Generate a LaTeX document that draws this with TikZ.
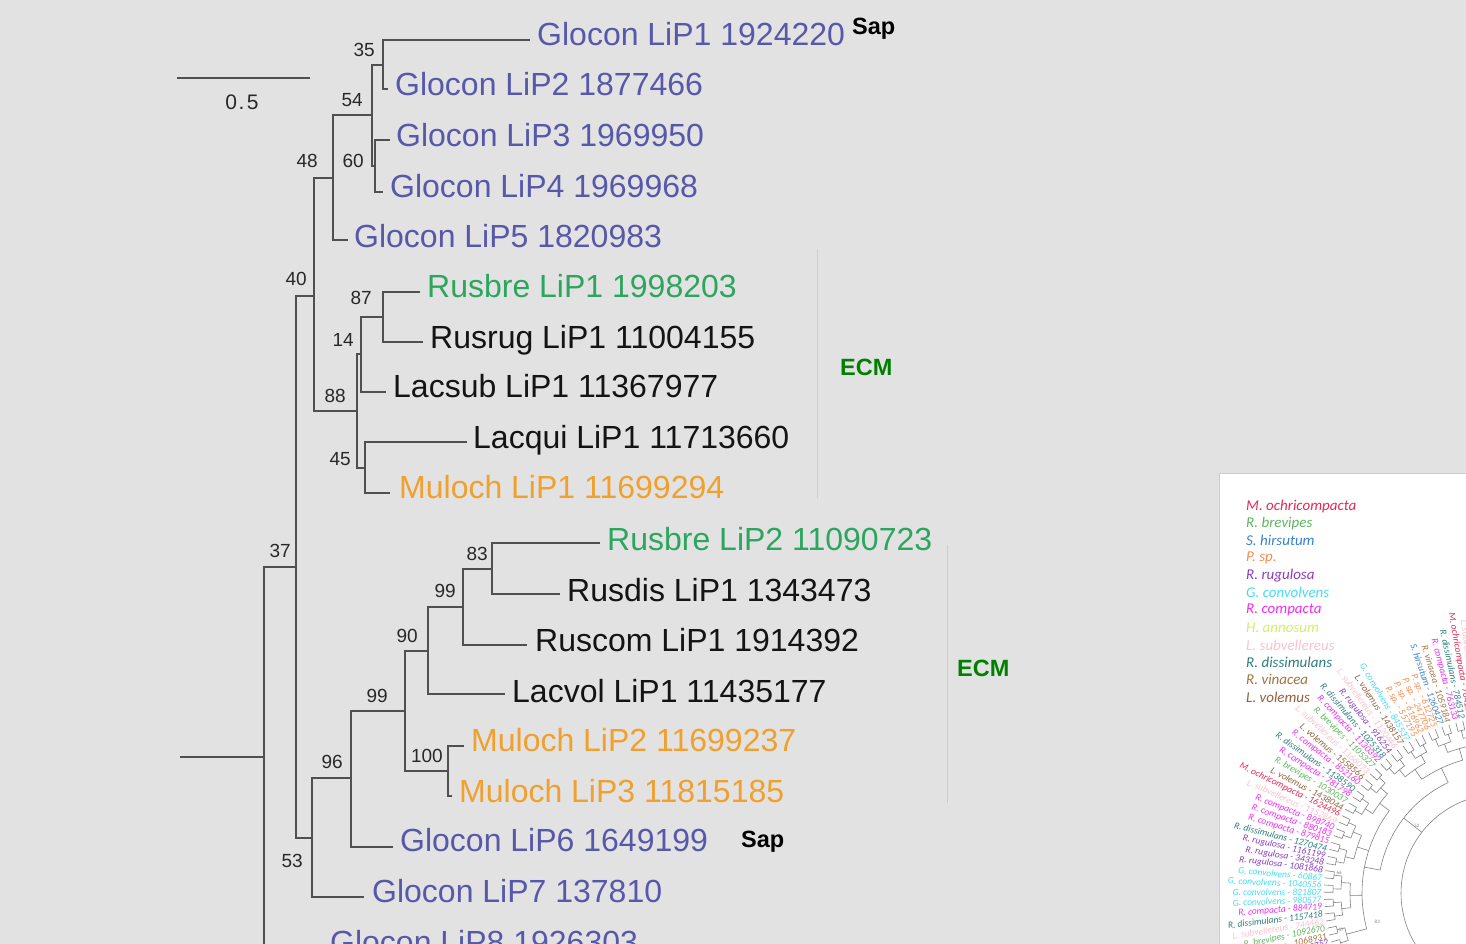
\documentclass[tikz,border=0pt]{standalone}
\usepackage{fontspec}
\setmainfont{Liberation Sans}
\newfontfamily\insetfont{Carlito}
\usetikzlibrary{calc}

\definecolor{bgc}{RGB}{226,226,226}
\definecolor{treegray}{RGB}{80,80,80}
\definecolor{bootgray}{RGB}{40,40,40}
\definecolor{glocon}{RGB}{88,88,170}
\definecolor{rusgreen}{RGB}{45,165,95}
\definecolor{mulorange}{RGB}{240,160,45}
\definecolor{darktext}{RGB}{20,20,20}
\definecolor{ecmgreen}{RGB}{0,128,0}
\definecolor{sepgray}{RGB}{205,205,205}
% species colours of the circular tree
\definecolor{mo}{RGB}{230,40,85}
\definecolor{rb}{RGB}{95,180,95}
\definecolor{sh}{RGB}{55,130,205}
\definecolor{ps}{RGB}{245,140,80}
\definecolor{rr}{RGB}{140,60,190}
\definecolor{gc}{RGB}{70,220,240}
\definecolor{rc}{RGB}{240,45,240}
\definecolor{ha}{RGB}{210,240,100}
\definecolor{ls}{RGB}{250,195,205}
\definecolor{rd}{RGB}{45,125,125}
\definecolor{rv}{RGB}{165,115,65}
\definecolor{lv}{RGB}{150,95,60}
\definecolor{igray}{RGB}{130,130,130}

\begin{document}
\begin{tikzpicture}[x=1pt,y=-1pt,
  branch/.style={draw=treegray, line width=1.7pt},
  tiplab/.style={anchor=base west, inner sep=0pt, font=\fontsize{32}{36}\selectfont},
  boot/.style={anchor=base east, inner sep=0pt, text=bootgray, font=\fontsize{19}{22}\selectfont},
  habit/.style={anchor=base west, inner sep=0pt, font=\fontsize{23.5}{27}\selectfont\bfseries},
  sepline/.style={draw=sepgray, line width=1pt},
  leg/.style={anchor=west, inner sep=0pt, font=\insetfont\itshape\fontsize{15}{16}\selectfont},
  inlab/.style={anchor=east, inner sep=0.5pt, font=\insetfont\itshape\fontsize{9.5}{10}\selectfont},
  ibranch/.style={draw=igray, line width=0.6pt},
  iboot/.style={text=igray, inner sep=0pt, font=\insetfont\fontsize{5}{6}\selectfont}]

\useasboundingbox (0,0) rectangle (1466,944);
\clip (0,0) rectangle (1466,944);
\fill[bgc] (0,0) rectangle (1466,944);

% ---------- scale bar ----------
\coordinate (sb1) at (177,78);
\coordinate (sb2) at (310,78);
\draw[branch] (sb1) -- (sb2);
\node[boot, anchor=base, font=\fontsize{21}{22}\selectfont] (sblab) at (242,110) {0\kern1.5pt.\kern2.5pt5};

% ---------- internal nodes ----------
\coordinate (rootstem) at (180,757);
\coordinate (root) at (264,757);
\coordinate (n37) at (296,567);
\coordinate (n40) at (314,296);
\coordinate (n48) at (333,178);
\coordinate (n54) at (372,115);
\coordinate (n35) at (383,65);
\coordinate (n60) at (375,166);
\coordinate (n88) at (357,411);
\coordinate (n14) at (361,354);
\coordinate (n87) at (383,317);
\coordinate (n45) at (365,468);
\coordinate (n53) at (312,838);
\coordinate (n96) at (351,778);
\coordinate (n99b) at (405,711);
\coordinate (n100) at (448,771);
\coordinate (n90) at (428,651);
\coordinate (n99a) at (463,607);
\coordinate (n83) at (492,569);

% ---------- branch tips ----------
\coordinate (t1) at (530,40);
\coordinate (t2) at (388,89);
\coordinate (t3) at (390,140);
\coordinate (t4) at (383,192);
\coordinate (t5) at (348,240);
\coordinate (t6) at (420,292);
\coordinate (t7) at (423,342);
\coordinate (t8) at (386,392);
\coordinate (t9) at (467,442);
\coordinate (t10) at (390,493);
\coordinate (t11) at (600,543);
\coordinate (t12) at (560,594);
\coordinate (t13) at (527,645);
\coordinate (t14) at (505,694);
\coordinate (t15) at (464,746);
\coordinate (t16) at (452,796);
\coordinate (t17) at (393,847);
\coordinate (t18) at (364,897);
\coordinate (t19) at (325,948);

% ---------- branches ----------
\draw[branch] (rootstem) -- (root);
\draw[branch] (root) |- (n37);
\draw[branch] (root) |- (t19);
\draw[branch] (n37) |- (n40);
\draw[branch] (n37) |- (n53);
\draw[branch] (n40) |- (n48);
\draw[branch] (n40) |- (n88);
\draw[branch] (n48) |- (n54);
\draw[branch] (n48) |- (t5);
\draw[branch] (n54) |- (n35);
\draw[branch] (n54) |- (n60);
\draw[branch] (n35) |- (t1);
\draw[branch] (n35) |- (t2);
\draw[branch] (n60) |- (t3);
\draw[branch] (n60) |- (t4);
\draw[branch] (n88) |- (n14);
\draw[branch] (n88) |- (n45);
\draw[branch] (n14) |- (n87);
\draw[branch] (n14) |- (t8);
\draw[branch] (n87) |- (t6);
\draw[branch] (n87) |- (t7);
\draw[branch] (n45) |- (t9);
\draw[branch] (n45) |- (t10);
\draw[branch] (n53) |- (n96);
\draw[branch] (n53) |- (t18);
\draw[branch] (n96) |- (n99b);
\draw[branch] (n96) |- (t17);
\draw[branch] (n99b) |- (n90);
\draw[branch] (n99b) |- (n100);
\draw[branch] (n100) |- (t15);
\draw[branch] (n100) |- (t16);
\draw[branch] (n90) |- (n99a);
\draw[branch] (n90) |- (t14);
\draw[branch] (n99a) |- (n83);
\draw[branch] (n99a) |- (t13);
\draw[branch] (n83) |- (t11);
\draw[branch] (n83) |- (t12);

% ---------- support values ----------
\node[boot] (b35) at (375,57) {35};
\node[boot] (b54) at (363,107) {54};
\node[boot] (b48) at (318,168) {48};
\node[boot] (b60) at (364,168) {60};
\node[boot] (b40) at (307,285) {40};
\node[boot] (b87) at (372,304) {87};
\node[boot] (b14) at (354,346) {14};
\node[boot] (b88) at (346,402) {88};
\node[boot] (b45) at (351,465) {45};
\node[boot] (b37) at (291,557) {37};
\node[boot] (b83) at (488,560) {83};
\node[boot] (b99a) at (456,597) {99};
\node[boot] (b90) at (418,642) {90};
\node[boot] (b99b) at (388,702) {99};
\node[boot] (b96) at (343,768) {96};
\node[boot] (b100) at (443,762) {100};
\node[boot] (b53) at (303,867) {53};

% ---------- tip labels ----------
\node[tiplab, text=glocon] (l1) at (537,46) {Glocon LiP1 1924220};
\node[tiplab, text=glocon] (l2) at (395,96) {Glocon LiP2 1877466};
\node[tiplab, text=glocon] (l3) at (396,147) {Glocon LiP3 1969950};
\node[tiplab, text=glocon] (l4) at (390,197) {Glocon LiP4 1969968};
\node[tiplab, text=glocon] (l5) at (354,247) {Glocon LiP5 1820983};
\node[tiplab, text=rusgreen] (l6) at (427,297) {Rusbre LiP1 1998203};
\node[tiplab, text=darktext] (l7) at (430,348) {Rusrug LiP1 11004155};
\node[tiplab, text=darktext] (l8) at (393,397) {Lacsub LiP1 11367977};
\node[tiplab, text=darktext] (l9) at (473,448) {Lacqui LiP1 11713660};
\node[tiplab, text=mulorange] (l10) at (399,498) {Muloch LiP1 11699294};
\node[tiplab, text=rusgreen] (l11) at (607,550) {Rusbre LiP2 11090723};
\node[tiplab, text=darktext] (l12) at (567,601) {Rusdis LiP1 1343473};
\node[tiplab, text=darktext] (l13) at (535,651) {Ruscom LiP1 1914392};
\node[tiplab, text=darktext] (l14) at (512,702) {Lacvol LiP1 11435177};
\node[tiplab, text=mulorange] (l15) at (471,751) {Muloch LiP2 11699237};
\node[tiplab, text=mulorange] (l16) at (459,802) {Muloch LiP3 11815185};
\node[tiplab, text=glocon] (l17) at (400,851) {Glocon LiP6 1649199};
\node[tiplab, text=glocon] (l18) at (372,902) {Glocon LiP7 137810};
\node[tiplab, text=glocon] (l19) at (330,953) {Glocon LiP8 1926303};

% ---------- lifestyle groups ----------
\node[habit, text=black] (sap1) at (852,35) {Sap};
\node[habit, text=black] (sap2) at (741,847) {Sap};
\coordinate (s1a) at (817,249);
\coordinate (s1b) at (817,498);
\draw[sepline] (s1a) -- (s1b);
\node[habit, text=ecmgreen] (ecm1) at (840,375) {ECM};
\coordinate (s2a) at (947,545);
\coordinate (s2b) at (947,803);
\draw[sepline] (s2a) -- (s2b);
\node[habit, text=ecmgreen] (ecm2) at (957,676) {ECM};

% ---------- circular tree panel ----------
\begin{scope}
  \clip (1219,473) rectangle (1466,944);
  \fill[white] (1219,473) rectangle (1466,944);
  \draw[draw=sepgray, line width=0.8pt] (1219,944) -- (1219,473) -- (1466,473);

  % legend
  \foreach \j/\c/\t in {0/mo/M. ochricompacta, 1/rb/R. brevipes, 2/sh/S. hirsutum,
      3/ps/P. sp., 4/rr/R. rugulosa, 5/gc/G. convolvens, 6/rc/R. compacta,
      7/ha/H. annosum, 8/ls/L. subvellereus, 9/rd/R. dissimulans,
      10/rv/R. vinacea, 11/lv/L. volemus}
    \node[leg, text=\c] (leg\j) at (1246,{506+17.36*\j}) {\t};

  \begin{scope}[shift={(1500,893)}, y=1pt]
    % leaf labels
    \foreach \i/\c/\t in {
      1/ls/L. subvellereus - 1153370,
      2/mo/M. ochricompacta - 764283,
      3/rd/R. dissimulans - 784512,
      4/rc/R. compacta - 763133,
      5/rv/R. vinacea - 1059184,
      6/sh/S. hirsutum - 1260427,
      7/ps/P. sp. - 612725,
      8/ps/P. sp. - 247706,
      9/ps/P. sp. - 616962,
      10/ps/P. sp. - 557195,
      11/gc/G. convolvens - 845537,
      12/lv/L. volemus - 1438157,
      13/ls/L. subvellereus - 1120446,
      14/rr/R. rugulosa - 916254,
      15/rd/R. dissimulans - 1025318,
      16/rc/R. compacta - 1130392,
      17/rb/R. brevipes - 1105327,
      18/ls/L. subvellereus - 1166073,
      19/lv/L. volemus - 1558566,
      20/rc/R. compacta - 852160,
      21/rd/R. dissimulans - 1138590,
      22/rc/R. compacta - 781798,
      23/rb/R. brevipes - 1030037,
      24/lv/L. volemus - 1438044,
      25/mo/M. ochricompacta - 1624496,
      26/ls/L. subvellereus - 1152869,
      27/rc/R. compacta - 898740,
      28/rc/R. compacta - 880183,
      29/rc/R. compacta - 879815,
      30/rd/R. dissimulans - 1270474,
      31/rr/R. rugulosa - 1161199,
      32/rr/R. rugulosa - 343248,
      33/rr/R. rugulosa - 1081868,
      34/gc/G. convolvens - 60867,
      35/gc/G. convolvens - 1040556,
      36/gc/G. convolvens - 821807,
      37/gc/G. convolvens - 980577,
      38/rc/R. compacta - 884719,
      39/rd/R. dissimulans - 1157418,
      40/ls/L. subvellereus - 744462,
      41/rb/R. brevipes - 1092670,
      42/rv/R. vinacea - 1068931,
      43/rr/R. rugulosa - 1100752,
      44/rb/R. brevipes - 1039221}
    {
      \pgfmathsetmacro{\ang}{97.5+2.35*(\i-1)}
      \node[inlab, text=\c, rotate=\ang-180] (leaf\i) at (\ang:178) {\t};
      \draw[ibranch] (\ang:176) -- (\ang:167);
    }
    % pairs of leaves
    \foreach \k in {1,...,22}{
      \pgfmathsetmacro{\aa}{97.5+2.35*(2*\k-2)}
      \pgfmathsetmacro{\ab}{\aa+2.35}
      \pgfmathsetmacro{\am}{\aa+1.175}
      \draw[ibranch] (\aa:167) arc[start angle=\aa, end angle=\ab, radius=167];
      \draw[ibranch] (\am:167) -- (\am:159);
    }
    % groups of four
    \foreach \k in {1,...,11}{
      \pgfmathsetmacro{\aa}{97.5+9.4*(\k-1)+1.175}
      \pgfmathsetmacro{\ab}{\aa+4.7}
      \pgfmathsetmacro{\am}{\aa+2.35}
      \draw[ibranch] (\aa:159) arc[start angle=\aa, end angle=\ab, radius=159];
      \draw[ibranch] (\am:159) -- (\am:150);
    }
    % groups of eight
    \foreach \k in {1,...,5}{
      \pgfmathsetmacro{\aa}{97.5+18.8*(\k-1)+3.525}
      \pgfmathsetmacro{\ab}{\aa+9.4}
      \pgfmathsetmacro{\am}{\aa+4.7}
      \draw[ibranch] (\aa:150) arc[start angle=\aa, end angle=\ab, radius=150];
      \draw[ibranch] (\am:150) -- (\am:138);
    }
    \draw[ibranch] (195.025:150) -- (195.025:138);
    % deeper splits
    \draw[ibranch] (105.725:138) arc[start angle=105.725, end angle=124.525, radius=138];
    \draw[ibranch] (115.125:138) -- (115.125:122);
    \draw[ibranch] (143.325:138) arc[start angle=143.325, end angle=195.025, radius=138];
    \draw[ibranch] (169.175:138) -- (169.175:122);
    \draw[ibranch] (115.125:122) arc[start angle=115.125, end angle=169.175, radius=122];
    \draw[ibranch] (142.15:122) -- (142.15:99);
    \draw[ibranch] (40:99) arc[start angle=40, end angle=215, radius=99];
    % support values
    \node[iboot] (ib52) at (141:107) {52};
    \node[iboot] (ib83) at (193:126) {83};
    \node[iboot] (ib66) at (173:162) {66};
    \node[iboot] (ib57) at (193:163) {57};
  \end{scope}
\end{scope}

\end{tikzpicture}
\end{document}
